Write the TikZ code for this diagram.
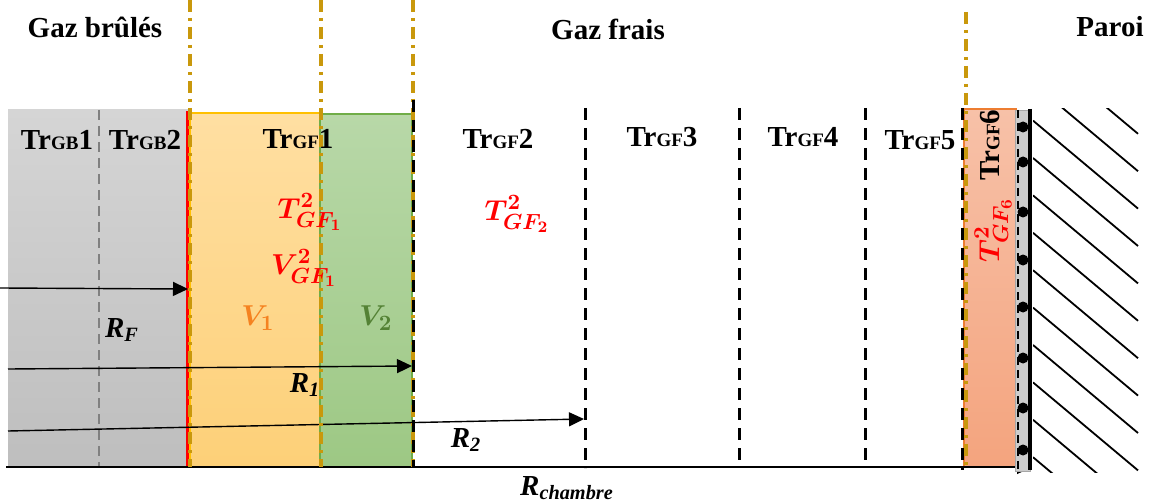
\documentclass[tikz,border=0pt]{standalone}
\usepackage{amsmath}
\usepackage{bm}
\usepackage{fontspec}
\setmainfont{Liberation Serif}
\usetikzlibrary{arrows.meta}
\DeclareMathSizes{15}{15}{11}{8.5}

\definecolor{dore}{RGB}{201,152,12}
\definecolor{grisH}{RGB}{213,213,213}
\definecolor{grisB}{RGB}{190,190,190}
\definecolor{orH}{RGB}{255,223,162}
\definecolor{orB}{RGB}{253,208,120}
\definecolor{orBord}{RGB}{255,192,0}
\definecolor{vertH}{RGB}{184,216,168}
\definecolor{vertB}{RGB}{157,200,132}
\definecolor{vertBord}{RGB}{112,173,71}
\definecolor{saumonH}{RGB}{247,193,168}
\definecolor{saumonB}{RGB}{244,164,126}
\definecolor{saumonBord}{RGB}{237,125,49}
\definecolor{txtV1}{RGB}{245,130,32}
\definecolor{txtV2}{RGB}{84,130,53}

\tikzset{
  titre/.style={font=\fontsize{14.5}{16}\selectfont\bfseries},
  tranche/.style={font=\fontsize{14.5}{16}\selectfont\bfseries},
  grandeur/.style={text=red, font=\fontsize{15}{17}\selectfont, inner sep=1pt},
  rayon/.style={font=\fontsize{14.5}{16}\selectfont},
  fleche/.style={-{Triangle[length=7.5pt,width=7pt]}, line width=0.7pt},
  tiret/.style={line width=1.5pt, dash pattern=on 6pt off 4pt},
  doree/.style={draw=dore, line width=1.8pt, dash pattern=on 6pt off 3pt on 1.5pt off 3pt}
}
\newcommand{\Tr}[2]{Tr{\fontsize{9.5}{10}\selectfont #1}#2}

\begin{document}
\begin{tikzpicture}[x=0.5pt, y=-0.5pt]
    \useasboundingbox (0,0) rectangle (1155,502);

    % zones colorées
    \shade[top color=grisH, bottom color=grisB] (8,110) rectangle (188,467);
    \shade[top color=orH, bottom color=orB, draw=orBord, line width=0.6pt] (190,113) rectangle (320,467);
    \shade[top color=vertH, bottom color=vertB, draw=vertBord, line width=0.6pt] (320,114) rectangle (412,467);
    \shade[top color=saumonH, bottom color=saumonB, draw=saumonBord, line width=0.6pt] (964,109) rectangle (1016,467);

    % séparation des tranches de gaz brûlés
    \draw[gray, line width=1pt, dash pattern=on 5pt off 3pt] (99,110) -- (99,467);

    % front de flamme
    \draw[red, line width=1.5pt] (187,111) -- (187,468);

    % rayons
    \coordinate (rf0) at (0,288);
    \coordinate (rf1) at (188,289);
    \coordinate (r10) at (8,369);
    \coordinate (r11) at (412,366);
    \coordinate (r20) at (8,431);
    \coordinate (r21) at (584,419);
    \coordinate (rc0) at (6,467);
    \coordinate (rc1) at (1032,467);
    \draw[fleche] (rf0) -- (rf1);
    \draw[fleche] (r10) -- (r11);
    \draw[fleche] (r20) -- (r21);
    \draw[fleche] (rc0) -- (rc1);

    % limites des volumes (pointillés dorés)
    \foreach \x in {190,321,413}
        \draw[doree] (\x,0) -- (\x,467);
    \draw[doree] (966,12) -- (966,467);

    % limites des tranches de gaz frais
    \draw[tiret] (413,100) -- (413,468);
    \draw[tiret] (585,108) -- (585,468);
    \draw[tiret] (739,108) -- (739,466);
    \draw[tiret] (865,108) -- (865,462);
    \draw[tiret] (962,108) -- (962,470);

    % paroi
    \fill[gray!40, draw=gray!70, line width=0.4pt] (1015,110) rectangle (1030,471);
    \draw[line width=0.6pt, dash pattern=on 4pt off 2.5pt] (1018,110) -- (1018,470);
    \foreach \y in {127,162,212,260,307,358,408,450}
        \fill (1023,\y) circle (5.5);
    \draw[line width=1.6pt] (1030,109) -- (1030,470);
    \begin{scope}
        \clip (1033,109) rectangle (1140,472);
        \foreach \k in {-3,...,8}
            \draw[line width=0.9pt] (1033,158+37.4*\k) -- ++(105,88);
    \end{scope}

    % titres
    \node[titre] (gb) at (95,27) {Gaz brûlés};
    \node[titre] (gf) at (608,29) {Gaz frais};
    \node[titre] (paroi) at (1110,27) {Paroi};

    % noms des tranches
    \node[tranche] (trgb1) at (57,140) {\Tr{GB}{1}};
    \node[tranche] (trgb2) at (145,140) {\Tr{GB}{2}};
    \node[tranche] (trgf1) at (298,139) {\Tr{GF}{1}};
    \node[tranche] (trgf2) at (498,139) {\Tr{GF}{2}};
    \node[tranche] (trgf3) at (662,137) {\Tr{GF}{3}};
    \node[tranche] (trgf4) at (803,137) {\Tr{GF}{4}};
    \node[tranche] (trgf5) at (920,140) {\Tr{GF}{5}};
    \node[tranche, rotate=90] (trgf6) at (990,145) {\Tr{GF}{6}};

    % grandeurs
    \node[grandeur] (t1) at (310,212) {$\bm{T^2_{GF_1}}$};
    \node[grandeur] (v1gf) at (304,268) {$\bm{V^2_{GF_1}}$};
    \node[grandeur, text=txtV1] (v1) at (258,318) {$\bm{V_1}$};
    \node[grandeur, text=txtV2] (v2) at (376,318) {$\bm{V_2}$};
    \node[grandeur] (t2) at (517,214) {$\bm{T^2_{GF_2}}$};
    \node[grandeur, rotate=90] (t6) at (993,230) {$\bm{T^2_{GF_6}}$};

    % étiquettes des rayons
    \node[rayon] (lrf) at (122,330) {\textbf{\textit{R}\textsubscript{\textit{F}}}};
    \node[rayon] (lr1) at (305,385) {\textbf{\textit{R}\textsubscript{\textit{1}}}};
    \node[rayon] (lr2) at (466,440) {\textbf{\textit{R}\textsubscript{\textit{2}}}};
    \node[rayon] (lrc) at (567,488) {\textbf{\textit{R}\textsubscript{\textit{chambre}}}};

\end{tikzpicture}
\end{document}
